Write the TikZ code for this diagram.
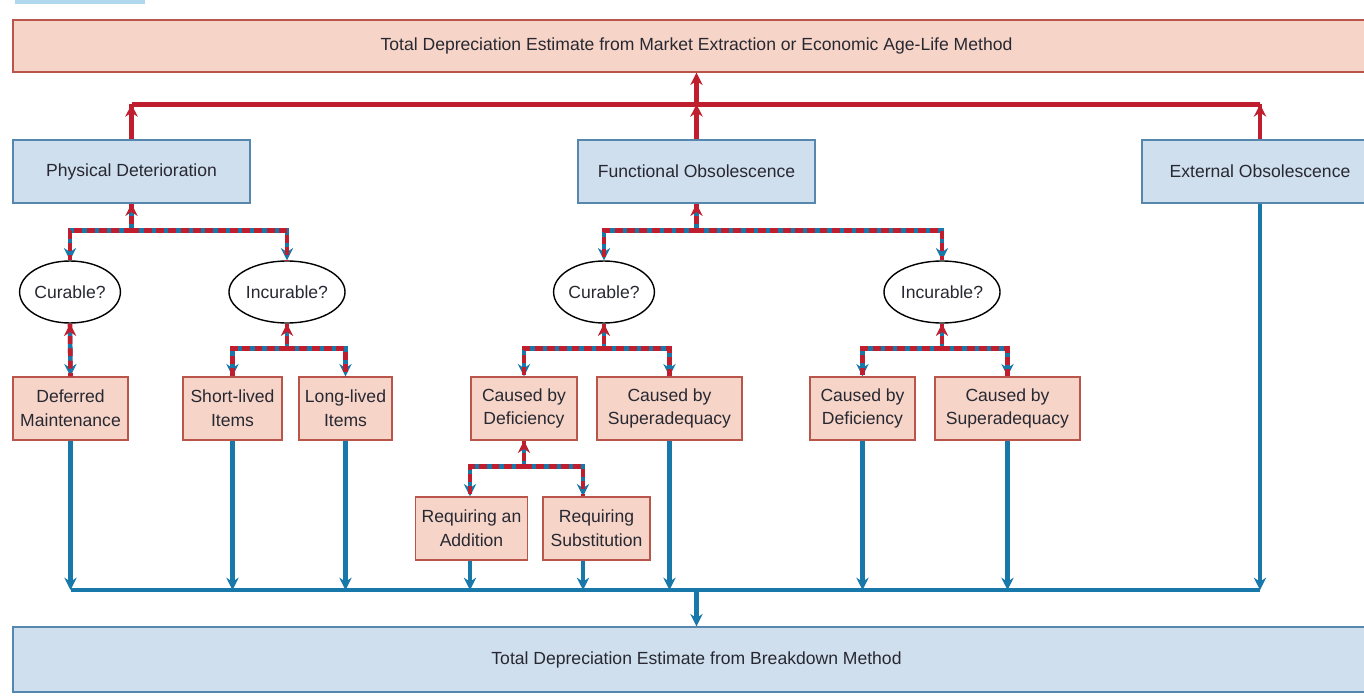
\documentclass[tikz,border=0pt]{standalone}
\usepackage{fontspec}
\setmainfont{Liberation Sans}
\usetikzlibrary{arrows.meta, shapes.geometric}
\definecolor{boxpink}{RGB}{246,213,200}
\definecolor{edgepink}{RGB}{185,85,75}
\definecolor{boxblue}{RGB}{207,223,238}
\definecolor{edgeblue}{RGB}{85,135,175}
\definecolor{linered}{RGB}{190,30,45}
\definecolor{lineblue}{RGB}{25,120,170}
\definecolor{textgrey}{RGB}{40,40,50}
\definecolor{tabblue}{RGB}{175,215,238}

\begin{document}
\begin{tikzpicture}[x=0.02cm, y=-0.02cm,
    txt/.style={font=\fontsize{10}{13.5}\selectfont, text=textgrey, align=center},
    pinkbox/.style={txt, draw=edgepink, fill=boxpink, line width=0.8pt, inner sep=0pt, minimum height=1.26cm},
    bluebox/.style={txt, draw=edgeblue, fill=boxblue, line width=0.8pt, inner sep=0pt, minimum height=1.26cm},
    query/.style={txt, ellipse, draw=black, fill=white, line width=0.8pt, inner sep=0pt, minimum width=2cm, minimum height=1.24cm},
    redline/.style={draw=linered, line width=2.6pt},
    blueline/.style={draw=lineblue, line width=2.6pt},
    mixline/.style={draw=lineblue, line width=2.6pt, postaction={draw=linered, line width=2.6pt, dash pattern=on 4.5pt off 2.5pt, arrows=-}},
    tipred/.style={arrows={-Stealth[color=linered, length=7pt, width=7pt]}},
    tipblue/.style={arrows={-Stealth[color=lineblue, length=7pt, width=7pt]}},
    backred/.style={arrows={Stealth[color=linered, length=7pt, width=7pt]-}},
    bothway/.style={arrows={Stealth[color=linered, length=7pt, width=7pt]-Stealth[color=lineblue, length=7pt, width=7pt]}},
]
    \useasboundingbox (0,0) rectangle (1364,699);
    \clip (0,0) rectangle (1364,699);
    \fill[tabblue] (15,-10) rectangle (145,4);

    \node[pinkbox, minimum width=27.34cm, minimum height=1.04cm] (total) at (696.5,46) {Total Depreciation Estimate from Market Extraction or Economic Age-Life Method};
    \node[bluebox, minimum width=27.34cm, minimum height=1.3cm] (breakdown) at (696.5,659.5) {Total Depreciation Estimate from Breakdown Method};

    \node[bluebox, minimum width=4.74cm] (phys) at (131.5,171.5) {Physical Deterioration};
    \node[bluebox, minimum width=4.74cm] (func) at (696.5,171.5) {Functional Obsolescence};
    \node[bluebox, minimum width=4.72cm] (ext) at (1260,171.5) {External Obsolescence};

    \node[query] (physcur) at (70,292) {Curable?};
    \node[query] (physinc) at (287,292) {Incurable?};
    \node[query] (funccur) at (604,292) {Curable?};
    \node[query] (funcinc) at (942,292) {Incurable?};

    \node[pinkbox, minimum width=2.3cm] (deferred) at (70.5,408.5) {Deferred\\Maintenance};
    \node[pinkbox, minimum width=1.98cm] (short) at (232.5,408.5) {Short-lived\\Items};
    \node[pinkbox, minimum width=1.86cm] (long) at (345.5,408.5) {Long-lived\\Items};
    \node[pinkbox, minimum width=2.12cm] (curdef) at (524,408.5) {Caused by\\Deficiency};
    \node[pinkbox, minimum width=2.9cm] (cursup) at (669.5,408.5) {Caused by\\Superadequacy};
    \node[pinkbox, minimum width=2.1cm] (incdef) at (862.5,408.5) {Caused by\\Deficiency};
    \node[pinkbox, minimum width=2.9cm] (incsup) at (1007.5,408.5) {Caused by\\Superadequacy};
    \node[pinkbox, minimum width=2.24cm] (addition) at (471.5,528.5) {Requiring an\\Addition};
    \node[pinkbox, minimum width=2.14cm] (subst) at (596.5,528.5) {Requiring\\Substitution};

    \draw[redline] (phys.north) -- ++(0,-35) coordinate (rleft);
    \draw[redline] (ext.north) -- ++(0,-35) coordinate (rright);
    \draw[redline] (rleft) -- (rright);
    \draw[redline, tipred] (phys.north) -- (rleft);
    \draw[redline, tipred] (ext.north) -- (rright);
    \draw[redline, tipred] (func.north) -- ++(0,-35) coordinate (rmid);
    \draw[redline, tipred] (rmid) -- (total.south);

    \draw[mixline, backred] (phys.south) -- ++(0,27) coordinate (jphys);
    \draw[mixline, tipblue] (jphys) -| (physcur.north);
    \draw[mixline, tipblue] (jphys) -| (physinc.north);
    \draw[mixline, bothway] (physcur.south) -- (deferred.north);
    \draw[mixline, backred] (physinc.south) -- ++(0,25) coordinate (jinc);
    \draw[mixline, tipblue] (jinc) -| (short.north);
    \draw[mixline, tipblue] (jinc) -| (long.north);

    \draw[mixline, backred] (func.south) -- ++(0,27) coordinate (jfunc);
    \draw[mixline, tipblue] (jfunc) -| (funccur.north);
    \draw[mixline, tipblue] (jfunc) -| (funcinc.north);
    \draw[mixline, backred] (funccur.south) -- ++(0,25) coordinate (jcur);
    \draw[mixline, tipblue] (jcur) -| (curdef.north);
    \draw[mixline, tipblue] (jcur) -| (cursup.north);
    \draw[mixline, backred] (funcinc.south) -- ++(0,25) coordinate (jinc2);
    \draw[mixline, tipblue] (jinc2) -| (incdef.north);
    \draw[mixline, tipblue] (jinc2) -| (incsup.north);
    \draw[mixline, backred] (curdef.south) -- ++(0,26) coordinate (jdef);
    \draw[mixline, tipblue] (jdef) -| ([xshift=-0.03cm]addition.north);
    \draw[mixline, tipblue] (jdef) -| ([xshift=-0.27cm]subst.north);

    \coordinate (bus) at (696.5,590);
    \draw[blueline] (deferred.south |- bus) -- (ext.south |- bus);
    \draw[blueline, tipblue] (deferred.south) -- (deferred.south |- bus);
    \draw[blueline, tipblue] (short.south) -- (short.south |- bus);
    \draw[blueline, tipblue] (long.south) -- (long.south |- bus);
    \draw[blueline, tipblue] ([xshift=-0.03cm]addition.south) -- ([xshift=-0.03cm]addition.south |- bus);
    \draw[blueline, tipblue] ([xshift=-0.27cm]subst.south) -- ([xshift=-0.27cm]subst.south |- bus);
    \draw[blueline, tipblue] (cursup.south) -- (cursup.south |- bus);
    \draw[blueline, tipblue] (incdef.south) -- (incdef.south |- bus);
    \draw[blueline, tipblue] (incsup.south) -- (incsup.south |- bus);
    \draw[blueline, tipblue] (ext.south) -- (ext.south |- bus);
    \draw[blueline, tipblue] (bus) -- (breakdown.north);
\end{tikzpicture}
\end{document}
